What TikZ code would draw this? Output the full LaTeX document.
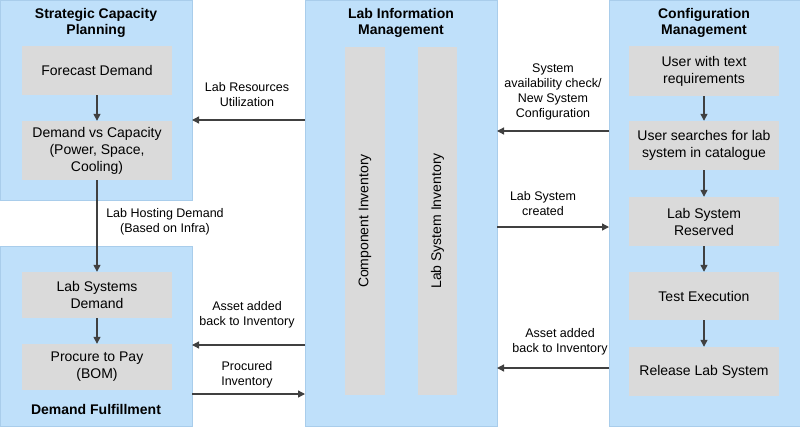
\documentclass[tikz,border=0pt]{standalone}
\usepackage{fontspec}
\setmainfont{Liberation Sans}
\usetikzlibrary{arrows.meta,positioning}
\definecolor{panelblue}{HTML}{BFE0FA}
\definecolor{paneledge}{HTML}{A9CDEB}
\definecolor{boxgrey}{HTML}{DADADA}
\definecolor{arrowgrey}{HTML}{404040}
\tikzset{
  panel/.style={fill=panelblue,draw=paneledge,line width=0.6pt},
  task/.style={fill=boxgrey,draw=none,minimum width=150pt,align=center,font=\fontsize{14}{17}\selectfont},
  bar/.style={fill=boxgrey,draw=none},
  title/.style={font=\bfseries\fontsize{14}{16.5}\selectfont,align=center},
  lbl/.style={font=\fontsize{12.5}{15}\selectfont,align=center},
  flow/.style={-{Triangle[length=7pt,width=7pt]},draw=arrowgrey,line width=1.3pt}
}
\begin{document}
\begin{tikzpicture}[x=1pt,y=-1pt]
\useasboundingbox (0,0) rectangle (800,426);
% panels
\draw[panel] (0,0) rectangle (192,200);
\draw[panel] (0,246) rectangle (192,426);
\draw[panel] (305,0) rectangle (497,426);
\draw[panel] (609,0) rectangle (800,426);
\node[title] at (96,23) {Strategic Capacity\\Planning};
\node[title] at (96,409) {Demand Fulfillment};
\node[title] at (401,23) {Lab Information\\Management};
\node[title] at (704,23) {Configuration\\Management};
% left steps
\node[task,minimum height=49pt] (fc) at (97,70.5) {Forecast Demand};
\node[task,minimum height=59pt] (dc) at (97,150.5) {Demand vs Capacity\\(Power, Space,\\Cooling)};
\node[task,minimum height=46pt] (lsd) at (97,295) {Lab Systems\\Demand};
\node[task,minimum height=46pt] (ptp) at (97,367) {Procure to Pay\\(BOM)};
% inventory bars
\node[bar,minimum width=40pt,minimum height=348pt] (ci) at (365,221) {};
\node[rotate=90,font=\fontsize{14}{16}\selectfont] at (ci) {Component Inventory};
\node[bar,minimum width=39pt,minimum height=348pt] (lsi) at (437.5,221) {};
\node[rotate=90,font=\fontsize{14}{16}\selectfont] at (lsi) {Lab System Inventory};
% right steps
\node[task,minimum height=50pt] (ut) at (704,71) {User with text\\requirements};
\node[task,minimum height=49pt] (us) at (704,145.5) {User searches for lab\\system in catalogue};
\node[task,minimum height=49pt] (lr) at (704,221.5) {Lab System\\Reserved};
\node[task,minimum height=48pt] (te) at (704,296) {Test Execution};
\node[task,minimum height=49pt] (rl) at (704,371.5) {Release Lab System};
% vertical flows
\draw[flow] (fc) -- (dc);
\draw[flow] (dc) -- (lsd);
\draw[flow] (lsd) -- (ptp);
\draw[flow] (ut) -- (us);
\draw[flow] (us) -- (lr);
\draw[flow] (lr) -- (te);
\draw[flow] (te) -- (rl);
\node[lbl] at (165,222) {Lab Hosting Demand\\(Based on Infra)};
% horizontal flows
\coordinate (m1) at (305,120); \coordinate (l1) at (192,120);
\coordinate (r2) at (609,131); \coordinate (m2) at (497,131);
\coordinate (m3) at (497,227); \coordinate (r3) at (609,227);
\coordinate (m4) at (305,345); \coordinate (l4) at (192,345);
\coordinate (l5) at (192,394); \coordinate (m5) at (305,394);
\coordinate (r6) at (609,368); \coordinate (m6) at (497,368);
\draw[flow] (m1) -- (l1);
\draw[flow] (r2) -- (m2);
\draw[flow] (m3) -- (r3);
\draw[flow] (m4) -- (l4);
\draw[flow] (l5) -- (m5);
\draw[flow] (r6) -- (m6);
\node[lbl] at (247,95) {Lab Resources\\Utilization};
\node[lbl] at (553,92) {System\\availability check/\\New System\\Configuration};
\node[lbl] at (543,204) {Lab System\\created};
\node[lbl] at (247,315) {Asset added\\back to Inventory};
\node[lbl] at (247,375) {Procured\\Inventory};
\node[lbl] at (560,342) {Asset added\\back to Inventory};
\end{tikzpicture}
\end{document}
